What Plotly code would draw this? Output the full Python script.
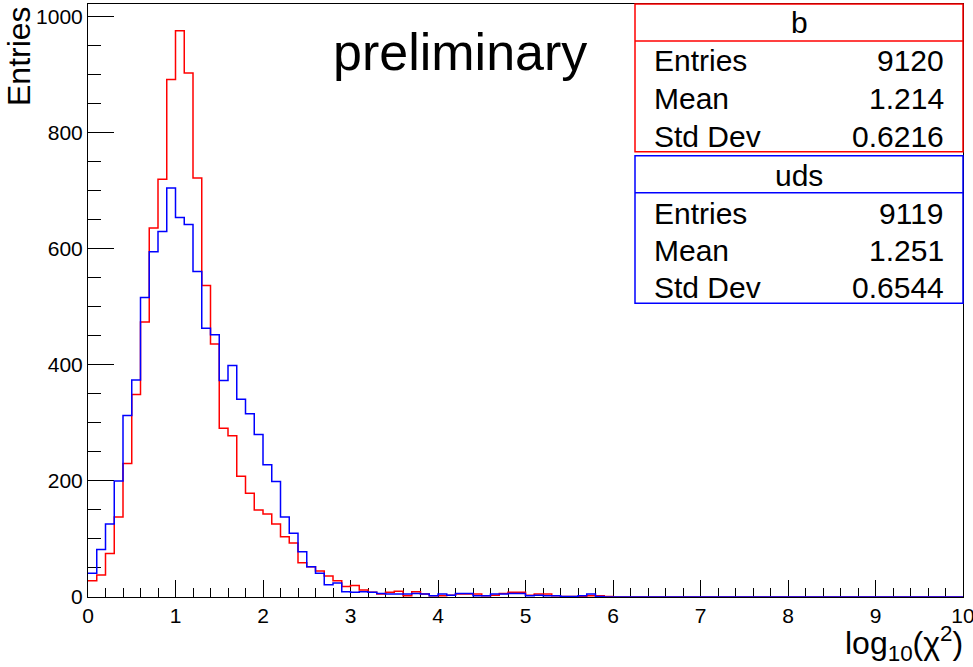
import numpy as np
import plotly.graph_objects as go

# ---- data ----
bin_low, bin_high, n_bins = 0.0, 10.0, 100

b_counts = [28, 38, 75, 138, 230, 349, 474, 636, 720, 892,
            976, 903, 722, 537, 436, 291, 278, 208, 179, 150,
            143, 126, 104, 93, 59, 52, 45, 36, 28, 18,
            20, 12, 8, 5, 8, 10, 2, 9, 5, 2,
            2, 3, 5, 5, 5, 2, 3, 6, 8, 8,
            3, 5, 5, 2, 1, 1, 1, 2, 2, 1] + [0] * 40

uds_counts = [41, 82, 126, 200, 313, 374, 516, 595, 630, 705,
              654, 642, 561, 463, 452, 373, 399, 341, 316, 280,
              228, 199, 138, 110, 78, 52, 41, 21, 24, 9,
              8, 9, 8, 6, 5, 5, 5, 6, 5, 2,
              5, 3, 6, 6, 2, 2, 5, 5, 6, 6,
              2, 3, 2, 2, 1, 1, 2, 5, 1, 0] + [0] * 40

stats_b = [("Entries", "9120"), ("Mean", "1.214"), ("Std Dev", "0.6216")]
stats_uds = [("Entries", "9119"), ("Mean", "1.251"), ("Std Dev", "0.6544")]

x_ticks = list(range(0, 11))
y_ticks = [0, 200, 400, 600, 800, 1000]

# ---- layout geometry (pixels) ----
W, H = 973, 667
L, R, T, B = 88, 963, 4, 597


def px(xp):
    return (xp - L) / (R - L)


def py(yp):
    return (B - yp) / (B - T)


edges = np.linspace(bin_low, bin_high, n_bins + 1)
FONT = "Liberation Sans, Arial, Helvetica, sans-serif"

fig = go.Figure()
for counts, color, name in [(b_counts, "#ff0000", "b"), (uds_counts, "#0000ff", "uds")]:
    fig.add_trace(go.Scatter(
        x=edges, y=list(counts) + [counts[-1]],
        mode="lines", line=dict(color=color, width=1.5, shape="hv"),
        name=name, showlegend=False, hoverinfo="skip"))

fig.update_layout(
    width=W, height=H,
    margin=dict(l=L, r=W - R, t=T, b=H - B, autoexpand=False),
    paper_bgcolor="white", plot_bgcolor="white",
    font=dict(family=FONT, size=21, color="black"),
    showlegend=False,
)
fig.update_xaxes(
    range=[bin_low, bin_high], tickvals=x_ticks, ticktext=[str(v) for v in x_ticks],
    ticks="inside", ticklen=17, tickwidth=1, tickcolor="black",
    minor=dict(dtick=0.2, ticks="inside", ticklen=9, tickwidth=1, tickcolor="black"),
    showline=True, linecolor="black", linewidth=1, mirror=True,
    showgrid=False, zeroline=False, layer="below traces", automargin=False,
    tickfont=dict(size=21, family=FONT), ticklabeloverflow="allow",
)
fig.update_yaxes(
    range=[0, 1022], tickvals=y_ticks, ticktext=[str(v) for v in y_ticks],
    ticks="inside", ticklen=26, tickwidth=1, tickcolor="black",
    minor=dict(dtick=50, ticks="inside", ticklen=13, tickwidth=1, tickcolor="black"),
    showline=True, linecolor="black", linewidth=1, mirror=True,
    showgrid=False, zeroline=False, layer="below traces", automargin=False,
    tickfont=dict(size=21, family=FONT), ticklabeloverflow="allow",
)

shapes = []
annotations = []
SF = 30


def stat_box(top, head, bottom, color, title, rows, row_y, title_y):
    shapes.append(dict(type="rect", xref="paper", yref="paper",
                       x0=px(635), x1=px(963), y0=py(bottom), y1=py(top),
                       line=dict(color=color, width=1.5), fillcolor="white", layer="above"))
    shapes.append(dict(type="line", xref="paper", yref="paper",
                       x0=px(635), x1=px(963), y0=py(head), y1=py(head),
                       line=dict(color=color, width=1.5), layer="above"))
    annotations.append(dict(text=title, xref="paper", yref="paper", x=px(799), y=py(title_y),
                            xanchor="center", yanchor="middle", showarrow=False,
                            font=dict(size=SF, family=FONT)))
    for (lab, val), yy in zip(rows, row_y):
        annotations.append(dict(text=lab, xref="paper", yref="paper", x=px(652), y=py(yy),
                                xanchor="left", yanchor="middle", showarrow=False,
                                font=dict(size=SF, family=FONT)))
        annotations.append(dict(text=val, xref="paper", yref="paper", x=px(946), y=py(yy),
                                xanchor="right", yanchor="middle", showarrow=False,
                                font=dict(size=SF, family=FONT)))


stat_box(4, 41, 151.7, "#ff0000", "b", stats_b, [61, 98, 136], 23)
stat_box(155.7, 192.7, 303.3, "#0000ff", "uds", stats_uds, [213, 250, 287], 175)

annotations.append(dict(text="preliminary", xref="paper", yref="paper", x=px(460), y=py(52),
                        xanchor="center", yanchor="middle", showarrow=False,
                        font=dict(size=52, family=FONT)))
annotations.append(dict(text="Entries", xref="paper", yref="paper", x=px(19), y=py(4),
                        xanchor="center", yanchor="top", textangle=-90, showarrow=False,
                        font=dict(size=32, family=FONT)))
annotations.append(dict(text="log<sub>10</sub>(χ<sup>2</sup>)", xref="paper", yref="paper",
                        x=px(965), y=py(643), xanchor="right", yanchor="middle", showarrow=False,
                        font=dict(size=32, family=FONT)))

fig.update_layout(shapes=shapes, annotations=annotations)
fig.write_html("out.html", config={"displayModeBar": False},
               post_script="document.body.style.margin='0';document.body.style.padding='0';")
